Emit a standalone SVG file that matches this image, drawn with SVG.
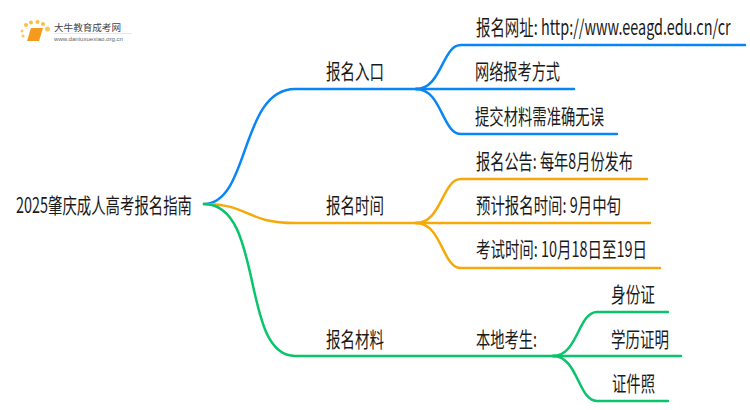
<svg xmlns="http://www.w3.org/2000/svg" width="750" height="410" viewBox="0 0 750 410">
<style>
text{font-family:"Noto Sans CJK SC","Open Sans",sans-serif;fill:#1a1a1a;font-size:21px}
.c{fill:none;stroke-width:2.500;stroke-linecap:round}
.b{stroke:#0a85f5}.o{stroke:#f5a90a}.g{stroke:#08c46b}
</style>
<rect width="750" height="410" fill="#fff"/>
<g id="logo">
<circle cx="23" cy="36" r="1.500" fill="#f8c95a"/><circle cx="22" cy="31" r="1.500" fill="#f8c95a"/><circle cx="26" cy="25" r="2" fill="#f8c040"/><circle cx="31" cy="22.500" r="2" fill="#f8c040"/><circle cx="37.500" cy="22" r="2" fill="#f8c040"/><circle cx="43" cy="24" r="2" fill="#f8c040"/><circle cx="47.500" cy="29" r="2.500" fill="#f8c95a"/>
<path d="M31 28H43L39 41H27Z" fill="#f59a1c"/>
<text x="54" y="31" textLength="67" lengthAdjust="spacingAndGlyphs" style="font-size:9px;fill:#444">大牛教育成考网</text>
<text x="54" y="41" textLength="69" lengthAdjust="spacingAndGlyphs" style="font-size:5.500px;fill:#666;font-family:'Liberation Sans',sans-serif">www.daniuxuexiao.org.cn</text>
<path d="M54 33.500H132" stroke="#ddd" stroke-width=".7"/>
</g>
<g id="connectors">
<path class="c b" d="M204 204C250 204 240 89 295 89H418"/>
<path class="c o" d="M204 204C250 204 245 223 295 223H418"/>
<path class="c g" d="M204 204C265 204 240 356 295 356H555"/>
<path class="c b" d="M416 89C442 89 442 45 461 45H745"/>
<path class="c b" d="M416 89H574"/>
<path class="c b" d="M416 89C442 89 442 134 461 134H617"/>
<path class="c o" d="M416 223C442 223 442 179 461 179H647"/>
<path class="c o" d="M416 223H650"/>
<path class="c o" d="M416 223C442 223 442 268 461 268H660"/>
<path class="c g" d="M553 356C578 356 578 312 597 312H668"/>
<path class="c g" d="M553 356H681"/>
<path class="c g" d="M553 356C578 356 578 401 597 401H668"/>
</g>
<g id="root"><text x="16" y="213" textLength="176" lengthAdjust="spacingAndGlyphs">2025肇庆成人高考报名指南</text></g>
<g id="n1"><text x="326" y="79" textLength="58" lengthAdjust="spacingAndGlyphs">报名入口</text></g>
<g id="n2"><text x="326" y="213" textLength="58" lengthAdjust="spacingAndGlyphs">报名时间</text></g>
<g id="n3"><text x="326" y="347" textLength="58" lengthAdjust="spacingAndGlyphs">报名材料</text></g>
<g id="n11"><text transform="translate(476 35) scale(.67 1)" textLength="380" lengthAdjust="spacingAndGlyphs">报名网址: http://www.eeagd.edu.cn/cr</text></g>
<g id="n12"><text x="475" y="79" textLength="85" lengthAdjust="spacingAndGlyphs">网络报考方式</text></g>
<g id="n13"><text x="475" y="124" textLength="129" lengthAdjust="spacingAndGlyphs">提交材料需准确无误</text></g>
<g id="n21"><text x="476" y="169" textLength="157" lengthAdjust="spacingAndGlyphs">报名公告: 每年8月份发布</text></g>
<g id="n22"><text x="476" y="213" textLength="145" lengthAdjust="spacingAndGlyphs">预计报名时间: 9月中旬</text></g>
<g id="n23"><text x="476" y="257" textLength="171" lengthAdjust="spacingAndGlyphs">考试时间: 10月18日至19日</text></g>
<g id="n31"><text x="476" y="347" textLength="61" lengthAdjust="spacingAndGlyphs">本地考生:</text></g>
<g id="n311"><text x="611" y="302" textLength="44" lengthAdjust="spacingAndGlyphs">身份证</text></g>
<g id="n312"><text x="611" y="347" textLength="58" lengthAdjust="spacingAndGlyphs">学历证明</text></g>
<g id="n313"><text x="612" y="391" textLength="43" lengthAdjust="spacingAndGlyphs">证件照</text></g>
</svg>
